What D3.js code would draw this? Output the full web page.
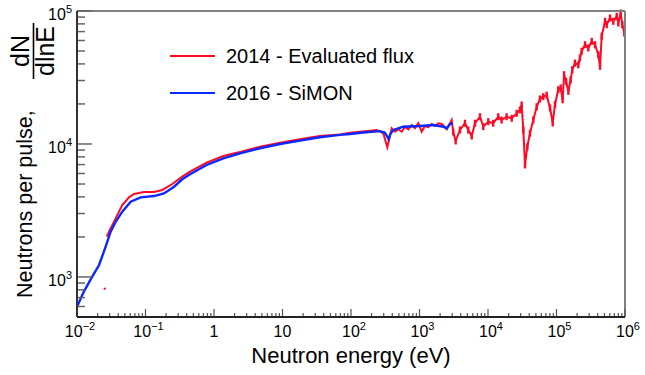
<!DOCTYPE html>
<html>
<head>
<meta charset="utf-8">
<script src="https://cdn.jsdelivr.net/npm/d3@7"></script>
<style>
  body { margin: 0; background: #fff; }
  svg { display: block; font-family: "Liberation Sans", Arial, Helvetica, sans-serif; }
</style>
</head>
<body>
<svg id="chart" width="645" height="375"></svg>
<script>
// 2016 - SiMON measurement (energy in eV, flux dN/dlnE)
const simonEnergy = [0.01, 0.0126, 0.0167, 0.021, 0.0262, 0.031, 0.0367, 0.0458, 0.0608, 0.0851,
  0.133, 0.186, 0.261, 0.344, 0.447, 0.78, 1.37, 2.4, 4.7, 9.2,
  18, 35, 69, 97, 150, 265, 310, 340, 355, 375,
  415, 580, 1016, 1590, 2230, 2500, 2790, 3050];
const simonFlux = [598, 776, 1005, 1230, 1690, 2190, 2600, 3100, 3680, 3970,
  4060, 4250, 4770, 5430, 5920, 6950, 7800, 8510, 9290, 10000,
  10590, 11230, 11700, 11900, 12200, 12500, 12200, 11300, 10840, 11900,
  12740, 13490, 13650, 13900, 13490, 13140, 14130, 14250];

// 2014 - evaluated flux
const evalEnergy = [0.0272, 0.0293, 0.0367, 0.0458, 0.0574, 0.068, 0.095, 0.133, 0.176, 0.246,
  0.344, 0.447, 0.78, 1.37, 2.4, 4.7, 9.2, 18, 35, 69,
  97, 135, 189, 237, 265, 296, 339, 393, 439, 491,
  550, 614, 687, 770, 860, 961, 1077, 1202, 1344, 1506,
  1683, 1882, 2110, 2500, 2950, 3110, 3370, 3900, 4610, 5150,
  5780, 6460, 7640, 8540, 10100, 11900, 14100, 15800, 18700, 22200,
  26200, 29300, 31000, 32800, 34700, 37500, 41000, 45800, 51400, 57400,
  64100, 71900, 80400, 88100, 95100, 106000, 115000, 123000, 129000, 138000,
  149000, 161000, 170000, 186000, 208000, 220000, 233000, 261000, 291000, 327000,
  365000, 408000, 432000, 457000, 511000, 541000, 604000, 675000, 757000, 798000,
  865000, 914000, 977000];
const evalFlux = [2010, 2190, 2760, 3470, 3970, 4210, 4350, 4350, 4510, 5000,
  5680, 6190, 7230, 8120, 8710, 9550, 10230, 10840, 11480, 11800,
  12170, 12370, 12590, 12740, 12370, 12030, 9440, 13130, 12370, 12900,
  12370, 13490, 12900, 13900, 13130, 14320, 12370, 13650, 13380, 14130,
  13650, 14320, 14130, 12900, 15140, 12300, 10540, 12740, 14320, 12740,
  11480, 14320, 16030, 13490, 14720, 14320, 16030, 15140, 16030, 15600,
  17000, 18030, 19640, 12740, 6950, 9550, 12030, 15140, 19050, 21800,
  22700, 23300, 18670, 14390, 19780, 25600, 26400, 21500, 33200, 29600,
  24900, 30400, 36200, 40600, 39400, 44400, 49800, 55800, 52700, 59200,
  55800, 46900, 38400, 64600, 83700, 78900, 88600, 83700, 91200, 81200,
  96600, 78900, 68300];
// stray low-energy point of the evaluated flux
const evalStrayEnergy = [0.0254];
const evalStrayFlux = [816];

const xTickExp = [-2, -1, 0, 1, 2, 3, 4, 5, 6];
const yTickExp = [3, 4, 5];
const legendLabels = ["2014 - Evaluated flux", "2016 - SiMON"];

const red = "#ff0a24", blue = "#0a28ff";
const W = 645, H = 375;
const margin = { top: 11, right: 20, bottom: 58, left: 77 };

const svg = d3.select("#chart");
const x = d3.scaleLog().domain([1e-2, 1e6]).range([margin.left, W - margin.right]);
const y = d3.scaleLog().domain([500, 1e5]).range([H - margin.bottom, margin.top]);

const evalData = evalEnergy.map((e, i) => ({ e: e, f: evalFlux[i] }));
const simonData = simonEnergy.map((e, i) => ({ e: e, f: simonFlux[i] }));

const plot = svg.append("g");
const line = d3.line().x(d => x(d.e)).y(d => y(d.f));

// evaluated flux (red)
plot.append("path")
  .datum(evalData)
  .attr("d", line)
  .attr("fill", "none")
  .attr("stroke", red)
  .attr("stroke-width", 2);
plot.selectAll("rect.bar")
  .data(evalData.filter(d => d.e > 3000))
  .enter().append("rect")
  .attr("class", "bar")
  .attr("x", d => x(d.e) - 1.2)
  .attr("y", d => y(d.f) - 3.5)
  .attr("width", 2.4)
  .attr("height", 7)
  .attr("fill", red);
plot.selectAll("rect.stray")
  .data(evalStrayEnergy.map((e, i) => ({ e: e, f: evalStrayFlux[i] })))
  .enter().append("rect")
  .attr("class", "stray")
  .attr("x", d => x(d.e) - 1)
  .attr("y", d => y(d.f) - 1)
  .attr("width", 2)
  .attr("height", 2)
  .attr("fill", red);

// SiMON (blue)
plot.append("path")
  .datum(simonData)
  .attr("d", line)
  .attr("fill", "none")
  .attr("stroke", blue)
  .attr("stroke-width", 2.4);

// frame
const x0 = margin.left, x1 = W - margin.right, y0 = H - margin.bottom, y1 = margin.top;
svg.append("line").attr("x1", x0).attr("x2", x1).attr("y1", y1).attr("y2", y1)
  .attr("stroke", "#808080").attr("stroke-width", 2);
svg.append("line").attr("x1", x1).attr("x2", x1).attr("y1", y1).attr("y2", y0)
  .attr("stroke", "#808080").attr("stroke-width", 2);

// x ticks
const xMinor = [];
for (let p = -2; p < 6; p++) for (let k = 2; k < 10; k++) xMinor.push(k * Math.pow(10, p));
svg.selectAll("line.xminor").data(xMinor).enter().append("line")
  .attr("x1", d => x(d)).attr("x2", d => x(d))
  .attr("y1", y0).attr("y2", y0 - 4)
  .attr("stroke", "#555").attr("stroke-width", 1.2);
svg.selectAll("line.xmajor").data(xTickExp).enter().append("line")
  .attr("x1", d => x(Math.pow(10, d))).attr("x2", d => x(Math.pow(10, d)))
  .attr("y1", y0).attr("y2", y0 - 8)
  .attr("stroke", "#555").attr("stroke-width", 1.2);

// y ticks
const yMinor = [];
for (let p = 2; p < 5; p++) for (let k = 2; k < 10; k++) {
  const v = k * Math.pow(10, p);
  if (v >= 500 && v <= 1e5) yMinor.push(v);
}
svg.selectAll("line.yminor").data(yMinor).enter().append("line")
  .attr("x1", x0).attr("x2", x0 + 8)
  .attr("y1", d => y(d)).attr("y2", d => y(d))
  .attr("stroke", "#666").attr("stroke-width", 1.5);
svg.selectAll("line.ymajor").data(yTickExp).enter().append("line")
  .attr("x1", x0).attr("x2", x0 + 15)
  .attr("y1", d => y(Math.pow(10, d))).attr("y2", d => y(Math.pow(10, d)))
  .attr("stroke", "#666").attr("stroke-width", 1.5);

// axis lines
svg.append("line").attr("x1", x0).attr("x2", x1).attr("y1", y0).attr("y2", y0)
  .attr("stroke", "#222").attr("stroke-width", 2);
svg.append("line").attr("x1", x0).attr("x2", x0).attr("y1", y1).attr("y2", y0)
  .attr("stroke", "#333").attr("stroke-width", 2);

// tick labels
function powLabel(sel, p) {
  if (p === 0) { sel.text("1"); return; }
  if (p === 1) { sel.text("10"); return; }
  sel.append("tspan").text("10");
  sel.append("tspan").attr("font-size", 11).attr("dy", -7).text(p < 0 ? "\u2212" + (-p) : p);
}
svg.selectAll("text.xlab").data(xTickExp).enter().append("text")
  .attr("class", "xlab")
  .attr("x", d => x(Math.pow(10, d)) + (d === 0 || d === 1 ? 0 : 3))
  .attr("y", 337)
  .attr("text-anchor", "middle")
  .attr("font-size", 16)
  .each(function(d) { powLabel(d3.select(this), d); });
svg.selectAll("text.ylab").data(yTickExp).enter().append("text")
  .attr("class", "ylab")
  .attr("x", 72)
  .attr("y", d => y(Math.pow(10, d)) + 9)
  .attr("text-anchor", "end")
  .attr("font-size", 16)
  .each(function(d) { powLabel(d3.select(this), d); });

// axis titles
svg.append("text")
  .attr("x", 351).attr("y", 363)
  .attr("text-anchor", "middle")
  .attr("font-size", 22)
  .text("Neutron energy (eV)");
svg.append("text")
  .attr("transform", "translate(32,298) rotate(-90)")
  .attr("font-size", 21.5)
  .text("Neutrons per pulse,");
const frac = svg.append("g").attr("transform", "translate(0,51) rotate(-90)");
frac.append("text").attr("x", 0).attr("y", 29).attr("text-anchor", "middle")
  .attr("font-size", 25).text("dN");
frac.append("line").attr("x1", -28).attr("x2", 28).attr("y1", 33.5).attr("y2", 33.5)
  .attr("stroke", "#000").attr("stroke-width", 1.6);
frac.append("text").attr("x", 0).attr("y", 54).attr("text-anchor", "middle")
  .attr("font-size", 25).text("dlnE");

// legend
const legend = svg.append("g");
legend.selectAll("line").data(legendLabels).enter().append("line")
  .attr("x1", 170).attr("x2", 215)
  .attr("y1", (d, i) => 56 + i * 37).attr("y2", (d, i) => 56 + i * 37)
  .attr("stroke", (d, i) => i === 0 ? red : blue)
  .attr("stroke-width", 2);
legend.selectAll("text").data(legendLabels).enter().append("text")
  .attr("x", 226)
  .attr("y", (d, i) => 63 + i * 37)
  .attr("font-size", 20)
  .text(d => d);
</script>
</body>
</html>
